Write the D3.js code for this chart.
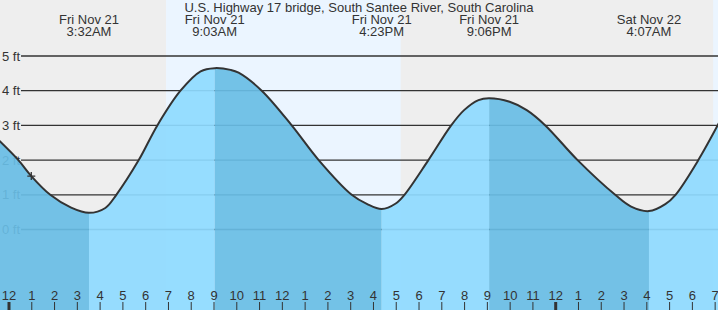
<!DOCTYPE html>
<html>
<head>
<meta charset="utf-8">
<script src="https://cdn.jsdelivr.net/npm/d3@7"></script>
<style>
  body { margin: 0; background: #fff; }
  svg text { font-family: "Liberation Sans", Arial, sans-serif; fill: #333; }
</style>
</head>
<body>
<div id="plot"></div>
<script>
// tide heights (local time, feet)
var tideTimes = [
    '2025-11-20 23:30', '2025-11-21 00:26', '2025-11-21 01:00', '2025-11-21 01:50',
    '2025-11-21 02:45', '2025-11-21 03:32', '2025-11-21 04:15', '2025-11-21 04:44',
    '2025-11-21 05:43', '2025-11-21 06:32', '2025-11-21 07:33', '2025-11-21 08:26',
    '2025-11-21 09:03', '2025-11-21 09:45', '2025-11-21 10:06', '2025-11-21 11:07',
    '2025-11-21 12:26', '2025-11-21 13:37', '2025-11-21 15:04', '2025-11-21 15:45',
    '2025-11-21 16:23', '2025-11-21 17:00', '2025-11-21 17:23', '2025-11-21 18:26',
    '2025-11-21 19:26', '2025-11-21 20:00', '2025-11-21 20:38', '2025-11-21 21:06',
    '2025-11-21 22:00', '2025-11-21 22:45', '2025-11-21 23:34', '2025-11-22 00:59',
    '2025-11-22 02:38', '2025-11-22 03:20', '2025-11-22 04:07', '2025-11-22 04:50',
    '2025-11-22 05:17', '2025-11-22 06:17', '2025-11-22 07:20'
];
var tideFeet = [
    2.62, 2.0, 1.54, 1.0,
    0.63, 0.48, 0.62, 1.0,
    2.0, 3.0, 4.0, 4.56,
    4.65, 4.6, 4.52, 4.0,
    3.0, 2.0, 1.0, 0.73,
    0.59, 0.75, 1.0, 2.0,
    3.0, 3.44, 3.73, 3.78,
    3.68, 3.44, 3.0, 2.0,
    1.0, 0.66, 0.53, 0.73,
    1.0, 2.0, 3.25
];

// high / low events shown in the header
var eventTimes = ['2025-11-21 03:32', '2025-11-21 09:03', '2025-11-21 16:23', '2025-11-21 21:06', '2025-11-22 04:07'];
var eventTypes = ['L', 'H', 'L', 'H', 'L'];

var sunTimes = ['2025-11-21 06:55', '2025-11-21 17:13', '2025-11-22 06:56'];
var nowTime = '2025-11-21 01:00';
var nowFeet = 1.54;

var footTicks = [0, 1, 2, 3, 4, 5];
var title = 'U.S. Highway 17 bridge, South Santee River, South Carolina';

var width = 718, height = 310;
var parse = d3.timeParse('%Y-%m-%d %H:%M');

// midnight to midnight spans 546.7px, then widen the domain to the whole picture
var base = d3.scaleTime()
    .domain([parse('2025-11-21 00:00'), parse('2025-11-22 00:00')])
    .range([8.5, 555.2]);
var t0 = base.invert(0), t1 = base.invert(width);
var x = d3.scaleTime().domain([t0, t1]).range([0, width]);
var y = d3.scaleLinear().domain([0, 5]).range([229.5, 56]);

var svg = d3.select('#plot')
    .append('svg')
    .attr('width', width)
    .attr('height', height);

// night / day background
svg.append('rect')
    .attr('width', width).attr('height', height)
    .attr('fill', '#eeeeee');

var sun = sunTimes.map(parse);
var dayBands = [[sun[0], sun[1]], [sun[2], t1]];
svg.selectAll('.day')
    .data(dayBands)
    .enter().append('rect')
    .attr('x', function (d) { return x(d[0]); })
    .attr('width', function (d) { return x(d[1]) - x(d[0]); })
    .attr('y', 0)
    .attr('height', height)
    .attr('fill', '#ebf5ff');

// grid lines
svg.selectAll('.grid')
    .data(footTicks)
    .enter().append('line')
    .attr('x1', 21).attr('x2', width)
    .attr('y1', function (d) { return y(d); })
    .attr('y2', function (d) { return y(d); })
    .attr('stroke', '#333')
    .attr('stroke-width', 1.3);

svg.selectAll('.ylab')
    .data(footTicks)
    .enter().append('text')
    .attr('x', 20)
    .attr('y', function (d) { return y(d) + 4.5; })
    .attr('text-anchor', 'end')
    .style('font-size', '13px')
    .text(function (d) { return d + ' ft'; });

// tide fill, split by rising / falling
var points = tideTimes.map(function (t, i) { return { t: parse(t), v: tideFeet[i] }; });

var area = d3.area()
    .x(function (d) { return x(d.t); })
    .y0(height)
    .y1(function (d) { return y(d.v); })
    .curve(d3.curveCatmullRom.alpha(0.5));

var line = d3.line()
    .x(function (d) { return x(d.t); })
    .y(function (d) { return y(d.v); })
    .curve(d3.curveCatmullRom.alpha(0.5));

svg.append('clipPath')
    .attr('id', 'tideclip')
    .append('path')
    .attr('d', area(points));

var events = eventTimes.map(parse);
var edges = [t0].concat(events).concat([t1]);
var phases = [];
for (var i = 0; i < edges.length - 1; i++) {
    var falling = i < eventTypes.length ? eventTypes[i] === 'L' : false;
    phases.push({ a: edges[i], b: edges[i + 1], falling: falling });
}

svg.append('g')
    .attr('clip-path', 'url(#tideclip)')
    .selectAll('rect')
    .data(phases)
    .enter().append('rect')
    .attr('x', function (d) { return x(d.a); })
    .attr('width', function (d) { return x(d.b) - x(d.a); })
    .attr('y', 0)
    .attr('height', height)
    .attr('fill', function (d) { return d.falling ? '#68bde5' : '#8edaff'; })
    .attr('fill-opacity', 0.92);

svg.append('path')
    .attr('d', line(points))
    .attr('fill', 'none')
    .attr('stroke', '#333')
    .attr('stroke-width', 2);

// current time marker
var nx = x(parse(nowTime)), ny = y(nowFeet);
svg.append('path')
    .attr('d', 'M' + (nx - 4) + ',' + ny + 'H' + (nx + 4) + 'M' + nx + ',' + (ny - 4) + 'V' + (ny + 4))
    .attr('stroke', '#333')
    .attr('stroke-width', 1.3);

// header
svg.append('text')
    .attr('x', width / 2)
    .attr('y', 12)
    .attr('text-anchor', 'middle')
    .style('font-size', '13px')
    .text(title);

var dayFmt = d3.timeFormat('%a %b %-d');
var timeFmt = d3.timeFormat('%-I:%M%p');
var heads = svg.selectAll('.head')
    .data(events)
    .enter().append('g');
heads.append('text')
    .attr('x', function (d) { return x(d); })
    .attr('y', 24)
    .attr('text-anchor', 'middle')
    .style('font-size', '13px')
    .text(dayFmt);
heads.append('text')
    .attr('x', function (d) { return x(d); })
    .attr('y', 36)
    .attr('text-anchor', 'middle')
    .style('font-size', '13px')
    .text(timeFmt);

// hour axis
var axis = d3.axisTop(x)
    .ticks(d3.timeHour.every(1))
    .tickFormat(d3.timeFormat('%-I'))
    .tickSize(8)
    .tickPadding(2);

var gx = svg.append('g')
    .attr('transform', 'translate(0,' + height + ')')
    .call(axis);
gx.select('.domain').remove();
gx.selectAll('.tick line')
    .attr('stroke', '#333')
    .attr('stroke-width', function (d) { return d.getHours() === 0 ? 3 : 1; });
gx.selectAll('.tick text')
    .style('font-size', '13px')
    .style('font-family', '"Liberation Sans", Arial, sans-serif')
    .attr('fill', '#333');
</script>
</body>
</html>
